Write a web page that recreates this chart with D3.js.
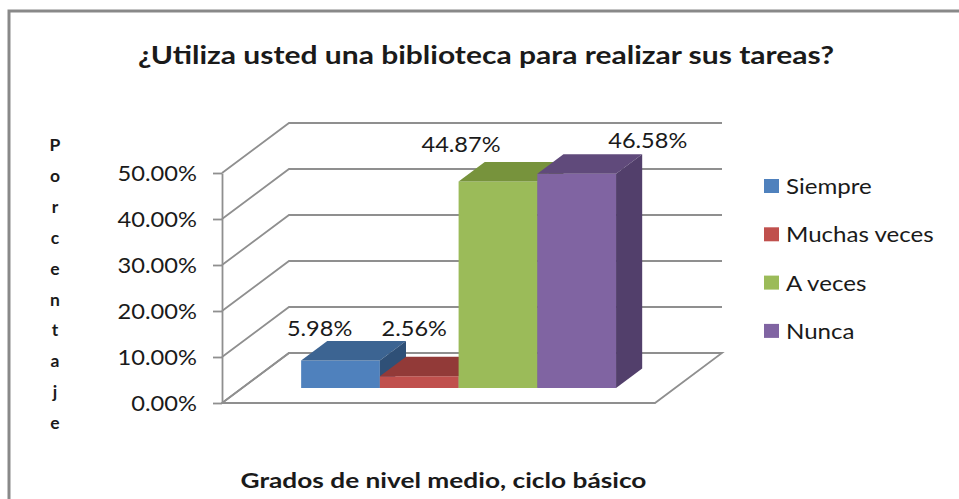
<!DOCTYPE html>
<html>
<head>
<meta charset="utf-8">
<script src="https://cdn.jsdelivr.net/npm/d3@7"></script>
<style>
  body { margin: 0; background: #fff; }
  svg { display: block; }
  text { font-family: Lato, "Open Sans", sans-serif; fill: #1a1a1a; }
</style>
</head>
<body>
<div id="chart-area"></div>
<script>
// data
var categories = ["Grados de nivel medio, ciclo básico"];
var seriesNames = ["Siempre", "Muchas veces", "A veces", "Nunca"];
var seriesValues = [0.0598, 0.0256, 0.4487, 0.4658];
var yTicks = [0, 0.1, 0.2, 0.3, 0.4, 0.5];
var titleText = "¿Utiliza usted una biblioteca para realizar sus tareas?";
var yTitleText = "Porcentaje";

// colours: front, top, side
var palette = [
  ["#4f81bd", "#3c6492", "#2f5077"],
  ["#c0504d", "#923a38", "#7a302e"],
  ["#9bbb59", "#77933c", "#647c33"],
  ["#8064a2", "#604a7b", "#523f6b"]
];

var width = 959, height = 499;
var origin = {x: 222, y: 403};   // front-left corner of the floor
var plotW = 433, plotH = 230;
var depth = {dx: 67, dy: -50};
var barZ0 = 0.3, barZ1 = 0.69;

var svg = d3.select("#chart-area").append("svg")
  .attr("width", width)
  .attr("height", height);

// stretch text a bit wider, the original font is drawn wide
function stretch(sel, k) {
  sel.each(function() {
    var w = this.getComputedTextLength();
    d3.select(this).attr("textLength", w * k).attr("lengthAdjust", "spacingAndGlyphs");
  });
}

// outer frame (only top and left visible)
svg.append("path")
  .attr("d", "M9," + (height + 5) + "L9,11L" + (width + 5) + ",11")
  .attr("fill", "none")
  .attr("stroke", "#898989")
  .attr("stroke-width", 3);

var y = d3.scaleLinear().domain([0, 0.5]).range([0, plotH]);
var x0 = d3.scaleBand().domain(categories).range([0, plotW]);
var x1 = d3.scaleBand().domain(seriesNames)
  .range([0, x0.bandwidth()])
  .paddingInner(0)
  .paddingOuter(0.75);

function project(x, h, z) {
  return [origin.x + x + z * depth.dx, origin.y - h + z * depth.dy];
}

var grid = svg.append("g")
  .attr("fill", "none")
  .attr("stroke", "#8f8f8f")
  .attr("stroke-width", 1.8);

// side wall + back wall gridlines
grid.selectAll(".grid")
  .data(yTicks)
  .enter().append("polyline")
  .attr("class", "grid")
  .attr("points", function(t) {
    return [project(0, y(t), 0), project(0, y(t), 1), project(plotW, y(t), 1)].join(" ");
  });

// floor
grid.append("polygon")
  .attr("points", [project(0, 0, 0), project(plotW, 0, 0), project(plotW, 0, 1), project(0, 0, 1)].join(" "));

// front value axis
var yScreen = d3.scaleLinear().domain([0, 0.5]).range([origin.y, origin.y - plotH]);
var yAxisGroup = svg.append("g")
  .attr("transform", "translate(" + origin.x + ",0)")
  .call(d3.axisLeft(yScreen)
    .tickValues(yTicks)
    .tickSize(9)
    .tickSizeOuter(0)
    .tickPadding(16)
    .tickFormat(d3.format(".2%")));
yAxisGroup.selectAll("path, line").attr("stroke", "#8f8f8f").attr("stroke-width", 1.8);
yAxisGroup.selectAll("text")
  .attr("font-size", "21.5px")
  .attr("font-family", "Lato, sans-serif")
  .attr("fill", "#1a1a1a")
  .attr("dy", "0.36em")
  .call(stretch, 1.1);

// 3d bars
var bars = svg.append("g").selectAll(".bar")
  .data(seriesNames)
  .enter().append("g")
  .attr("class", "bar");

bars.each(function(name, i) {
  var g = d3.select(this);
  var xl = x0(categories[0]) + x1(name);
  var xr = xl + x1.bandwidth();
  var h = y(seriesValues[i]);
  var c = palette[i];
  g.append("polygon")
    .attr("points", [project(xl, 0, barZ0), project(xr, 0, barZ0), project(xr, h, barZ0), project(xl, h, barZ0)].join(" "))
    .attr("fill", c[0]);
  g.append("polygon")
    .attr("points", [project(xl, h, barZ0), project(xr, h, barZ0), project(xr, h, barZ1), project(xl, h, barZ1)].join(" "))
    .attr("fill", c[1]);
  g.append("polygon")
    .attr("points", [project(xr, 0, barZ0), project(xr, 0, barZ1), project(xr, h, barZ1), project(xr, h, barZ0)].join(" "))
    .attr("fill", c[2]);
});

// data labels (Excel puts them a bit unevenly)
var labelNudge = [[-34, 1], [-18, -15], [-50, -4], [58, 0]];
svg.append("g").selectAll(".value")
  .data(seriesNames)
  .enter().append("text")
  .attr("class", "value")
  .attr("text-anchor", "middle")
  .attr("font-size", "21px")
  .attr("x", function(name, i) {
    var xc = x0(categories[0]) + x1(name) + x1.bandwidth() / 2;
    return project(xc, 0, (barZ0 + barZ1) / 2)[0] + labelNudge[i][0];
  })
  .attr("y", function(name, i) {
    return project(0, y(seriesValues[i]), barZ1)[1] - 6 + labelNudge[i][1];
  })
  .text(function(name, i) { return d3.format(".2%")(seriesValues[i]); })
  .call(stretch, 1.12);

// legend
var legend = svg.append("g").selectAll(".legend")
  .data(seriesNames)
  .enter().append("g")
  .attr("class", "legend")
  .attr("transform", function(d, i) { return "translate(764," + (186 + i * 48.3) + ")"; });
legend.append("rect")
  .attr("x", 0).attr("y", -7)
  .attr("width", 15).attr("height", 14)
  .attr("fill", function(d, i) { return palette[i][0]; });
legend.append("text")
  .attr("x", 22)
  .attr("y", 8)
  .attr("font-size", "21.5px")
  .text(function(d) { return d; })
  .call(stretch, 1.12);

// title
svg.append("text")
  .attr("x", 486)
  .attr("y", 64)
  .attr("text-anchor", "middle")
  .attr("font-size", "25px")
  .attr("font-weight", "bold")
  .text(titleText)
  .call(stretch, 1.2);

// x axis title
svg.append("text")
  .attr("x", 443.5)
  .attr("y", 488)
  .attr("text-anchor", "middle")
  .attr("font-size", "21px")
  .attr("font-weight", "bold")
  .text(categories[0])
  .call(stretch, 1.25);

// y axis title, one letter per line
svg.append("g").selectAll(".ylet")
  .data(yTitleText.split(""))
  .enter().append("text")
  .attr("class", "ylet")
  .attr("x", 55)
  .attr("y", function(d, i) { return 151 + i * 30.9; })
  .attr("text-anchor", "middle")
  .attr("font-size", "17.5px")
  .attr("font-weight", "bold")
  .text(function(d) { return d; });
</script>
</body>
</html>
